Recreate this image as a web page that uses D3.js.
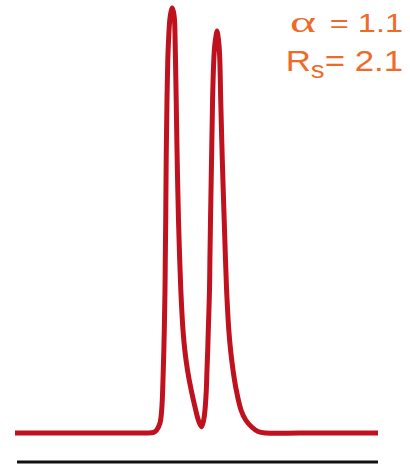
<!DOCTYPE html>
<html>
<head>
<meta charset="utf-8">
<script src="https://cdn.jsdelivr.net/npm/d3@7/dist/d3.min.js"></script>
<style>
  html, body { margin: 0; padding: 0; background: #ffffff; }
  svg { display: block; }
</style>
</head>
<body>
<svg id="chart" width="410" height="471"></svg>
<script>
// Chromatogram trace: retention time (min) and detector signal (% of tallest peak)
const times = [
  0.000, 1.500, 3.000, 3.600, 3.820, 3.904, 3.994, 4.041, 4.077, 4.113, 4.132, 4.140,
  4.152, 4.168, 4.187, 4.209, 4.237, 4.264, 4.298, 4.331,
  4.366, 4.394, 4.408, 4.421, 4.441, 4.468, 4.504, 4.537, 4.568, 4.595, 4.628, 4.678,
  4.752, 4.854, 4.978, 5.050, 5.138,
  5.198, 5.234, 5.270, 5.289, 5.309, 5.325, 5.358, 5.369, 5.386, 5.419, 5.443, 5.477,
  5.504, 5.537, 5.565,
  5.592, 5.620, 5.642, 5.667, 5.711, 5.763, 5.799, 5.829, 5.857, 5.890, 5.939, 6.006,
  6.096, 6.226, 6.355, 6.521, 6.694, 6.915, 7.851, 10.000
];
const signal = [
  0, 0, 0, 0, 0.15, 0.71, 2.35, 5.41, 12.5, 24.2, 33.6, 40.7,
  50.1, 66.6, 78.4, 87.8, 93.6, 97.2, 99.1, 100,
  99.1, 97.2, 93.6, 87.8, 78.4, 64.2, 50.1, 40.7, 33.6, 28.9, 24.2, 19.5,
  14.8, 10.1, 5.41, 3.06, 1.48,
  3.06, 5.41, 10.1, 14.8, 19.5, 24.2, 33.6, 40.7, 50.1, 66.6, 78.4, 87.8,
  91.3, 93.4, 94.6,
  93.4, 91.3, 87.8, 78.4, 64.2, 50.1, 40.7, 33.6, 28.9, 24.2, 19.5, 14.8,
  10.1, 5.41, 3.06, 1.41, 0.35, 0, 0, 0
];
const timeDomain = [0, 10];
const signalDomain = [0, 100];

// Annotation text: selectivity and resolution
const alphaSymbol = "\u03B1";
const alphaValue = "= 1.1";
const resLabelMain = "R";
const resLabelSub = "s";
const resLabelValue = "= 2.1";

const svg = d3.select("#chart");

const x = d3.scaleLinear().domain(timeDomain).range([15, 378]);
const y = d3.scaleLinear().domain(signalDomain).range([433, 8]);

// Time axis: a plain line, no ticks
const axis = d3.axisBottom(x).tickValues([]).tickSizeOuter(0);
const axisG = svg.append("g")
  .attr("transform", "translate(0,462)")
  .call(axis);
axisG.select(".domain")
  .attr("stroke", "#111111")
  .attr("stroke-width", 3)
  .attr("d", `M${x(timeDomain[0]) + 2},0H${x(timeDomain[1])}`);

// Trace
const pts = times.map((t, i) => [t, signal[i]]);
const line = d3.line()
  .x(d => x(d[0]))
  .y(d => y(d[1]))
  .curve(d3.curveCatmullRom.alpha(0.5));

svg.append("path")
  .datum(pts)
  .attr("d", line)
  .attr("fill", "none")
  .attr("stroke", "#c0111f")
  .attr("stroke-width", 5)
  .attr("stroke-linejoin", "round")
  .attr("stroke-linecap", "butt");

// Annotations
const orange = "#ef6a28";
const font = "'Liberation Sans', Arial, sans-serif";
const rightEdge = 403;

// Line 1: alpha value, then the alpha symbol placed to its left
const aScale = 1.3;
const aVal = svg.append("g")
  .attr("transform", `translate(${rightEdge},32) scale(${aScale},1)`)
  .append("text")
  .attr("text-anchor", "end")
  .attr("font-family", font)
  .attr("font-size", 25)
  .attr("fill", orange)
  .text(alphaValue);
const aValWidth = aVal.node().getComputedTextLength() * aScale;

svg.append("g")
  .attr("transform", `translate(${rightEdge - aValWidth - 14},32) scale(1.65,1)`)
  .append("text")
  .attr("text-anchor", "end")
  .attr("font-family", "'Liberation Serif', 'Times New Roman', serif")
  .attr("font-size", 30)
  .attr("fill", orange)
  .text(alphaSymbol);

// Line 2: resolution with subscript
const rs = svg.append("g")
  .attr("transform", `translate(${rightEdge},71) scale(1.2,1)`)
  .append("text")
  .attr("text-anchor", "end")
  .attr("font-family", font)
  .attr("font-size", 29)
  .attr("fill", orange);
rs.append("tspan").text(resLabelMain);
rs.append("tspan").attr("dy", 7).attr("font-size", 23).text(resLabelSub);
rs.append("tspan").attr("dy", -7).text(resLabelValue);
</script>
</body>
</html>
